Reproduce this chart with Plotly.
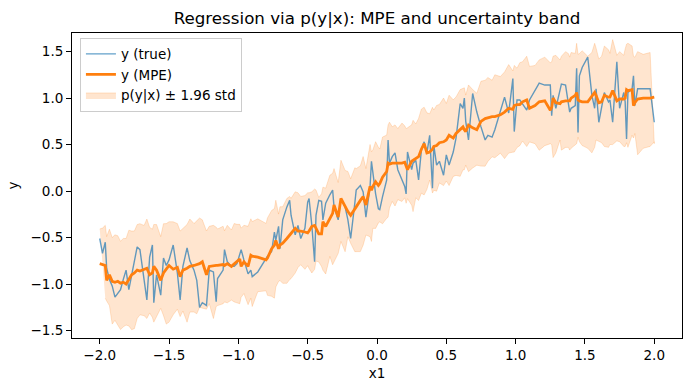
import plotly.graph_objects as go

# ---- data ----
x1 = [
    -2.00, -1.98, -1.96, -1.95, -1.93, -1.91, -1.89, -1.87, -1.85, -1.83,
    -1.81, -1.79, -1.77, -1.75, -1.73, -1.71, -1.68, -1.66, -1.64, -1.62,
    -1.61, -1.59, -1.56, -1.54, -1.52, -1.50, -1.47, -1.44, -1.42, -1.40,
    -1.37, -1.35, -1.32, -1.30, -1.28, -1.26, -1.23, -1.21,
    -1.18, -1.16, -1.15, -1.11, -1.10, -1.08, -1.05, -1.03, -1.01, -0.99,
    -0.98, -0.96, -0.93, -0.91, -0.90, -0.86, -0.80, -0.79, -0.76, -0.74,
    -0.73, -0.71, -0.70, -0.68, -0.65, -0.63, -0.62, -0.59, -0.57, -0.55,
    -0.52, -0.50, -0.49, -0.47, -0.45, -0.44,
    -0.42, -0.40, -0.39, -0.37, -0.34, -0.32, -0.31, -0.28, -0.26, -0.23,
    -0.21, -0.19, -0.16, -0.15, -0.12, -0.10, -0.08, -0.05, -0.04, -0.03,
    -0.01, 0.01, 0.02, 0.04, 0.07, 0.08, 0.09, 0.11, 0.13, 0.15,
    0.18, 0.20, 0.21, 0.22, 0.25, 0.26, 0.28, 0.30, 0.32, 0.34, 0.36,
    0.38, 0.40, 0.41, 0.43, 0.45, 0.48, 0.50, 0.52, 0.55, 0.57,
    0.60, 0.62, 0.63, 0.64, 0.66, 0.69, 0.72, 0.75, 0.78, 0.80,
    0.83, 0.85, 0.89, 0.92, 0.95, 0.98, 0.99, 1.01, 1.03, 1.05,
    1.08, 1.10, 1.14, 1.17,
    1.21, 1.25, 1.26, 1.27, 1.29, 1.32, 1.33, 1.36, 1.38, 1.39,
    1.40, 1.43, 1.44, 1.45, 1.46, 1.48, 1.52, 1.55, 1.57, 1.58,
    1.60, 1.62, 1.64, 1.67, 1.68, 1.70, 1.73, 1.75, 1.78, 1.79,
    1.80, 1.81, 1.84, 1.85, 1.86, 1.88, 1.92, 1.97, 2.00,
]

y_true = [
    -0.51, -0.67, -0.55, -0.83, -0.95, -1.02, -1.14, -1.10, -1.06, -0.95,
    -0.85, -1.06, -0.90, -0.75, -0.60, -0.63, -0.93, -1.17, -0.71, -0.58,
    -1.20, -0.90, -1.12, -0.72, -0.80, -0.74, -0.58, -0.88, -1.17, -0.81,
    -0.61, -0.75, -0.85, -0.96, -1.25, -1.20, -1.23, -0.85,
    -0.87, -1.19, -0.94, -0.85, -0.63, -0.76, -0.81, -0.81, -0.78, -0.69,
    -0.63, -0.74, -0.89, -0.85, -0.92, -0.87, -0.72, -0.70, -0.65, -0.44,
    -0.53, -0.38, -0.62, -0.31, -0.17, -0.10, -0.26, -0.47, -0.37, -0.51,
    -0.40, -0.12, -0.08, -0.37, -0.76, -0.26,
    -0.10, -0.11, -0.31, -0.13, -0.04, 0.01, -0.17, -0.31, -0.08, -0.17,
    -0.31, -0.51, -0.13, 0.01, 0.06, -0.01, -0.28, 0.05, 0.32, 0.19,
    -0.03, -0.19, -0.20, -0.06, 0.12, 0.55, 0.30, 0.37, 0.41, 0.23,
    0.12, 0.05, -0.03, 0.42, 0.23, 0.30, 0.33, 0.12, 0.44, 0.53, 0.41,
    0.60, 0.03, 0.49, 0.28, 0.32, 0.17, 0.39, 0.28, 0.42, 0.57,
    0.94, 0.89, 1.00, 0.75, 0.55, 1.05, 0.85, 0.69, 0.55, 0.60,
    0.58, 0.66, 0.87, 1.01, 0.84, 1.21, 0.64, 0.98, 0.98, 0.94,
    0.87, 0.98, 1.09, 1.16,
    1.14, 1.14, 0.81, 1.03, 0.89, 1.10, 1.15, 1.14, 0.92, 0.85,
    0.89, 0.92, 1.32, 0.63, 1.24, 1.33, 1.44, 1.03, 0.89, 1.10,
    0.74, 0.92, 1.06, 0.96, 0.98, 0.74, 1.39, 0.89, 1.06, 0.96,
    0.56, 1.06, 1.10, 1.24, 0.92, 1.10, 1.10, 1.10, 0.74,
]

y_mpe = [
    -0.78, -0.79, -0.80, -0.96, -0.90, -0.97, -0.98, -0.97, -0.99, -0.98,
    -1.00, -0.95, -0.90, -0.88, -0.85, -0.86, -0.84, -0.83, -0.90, -0.88,
    -0.81, -0.85, -0.96, -0.88, -0.84, -0.80, -0.84, -0.82, -0.92, -0.85,
    -0.83, -0.81, -0.80, -0.79, -0.78, -0.76, -0.90, -0.81,
    -0.80, -0.80, -0.80, -0.79, -0.80, -0.78, -0.81, -0.78, -0.75, -0.73,
    -0.81, -0.76, -0.81, -0.69, -0.70, -0.71, -0.74, -0.72, -0.62, -0.58,
    -0.53, -0.62, -0.58, -0.56, -0.51, -0.47, -0.45, -0.40, -0.43, -0.43,
    -0.44, -0.45, -0.43, -0.38, -0.37, -0.40,
    -0.46, -0.46, -0.33, -0.38, -0.30, -0.24, -0.15, -0.28, -0.08, -0.17,
    -0.22, -0.26, -0.20, -0.17, -0.10, -0.06, -0.15, 0.05, 0.01, 0.05,
    0.10, 0.06, 0.08, 0.15, 0.21, 0.30, 0.29, 0.30, 0.30, 0.30,
    0.30, 0.31, 0.26, 0.23, 0.32, 0.33, 0.35, 0.37, 0.45, 0.51, 0.41,
    0.42, 0.45, 0.48, 0.49, 0.52, 0.53, 0.55, 0.60, 0.57, 0.62,
    0.66, 0.69, 0.66, 0.64, 0.71, 0.68, 0.66, 0.75, 0.78, 0.79,
    0.80, 0.80, 0.82, 0.85, 0.89, 0.88, 0.92, 0.93, 0.93, 0.96,
    0.98, 0.89, 0.92, 0.96,
    0.97, 0.87, 0.90, 1.00, 0.95, 0.94, 0.96, 0.97, 0.97, 0.97,
    1.00, 1.03, 1.06, 0.98, 0.97, 0.96, 0.96, 1.02, 1.06, 1.03,
    0.95, 0.96, 1.03, 1.01, 1.01, 1.08, 0.97, 0.99, 0.99, 1.00,
    1.09, 1.08, 1.09, 0.92, 0.95, 0.99, 1.00, 1.00, 1.01,
]

y_std = [
    0.19, 0.20, 0.22, 0.24, 0.25, 0.24, 0.26, 0.25, 0.23, 0.24,
    0.25, 0.27, 0.24, 0.23, 0.25, 0.26, 0.24, 0.27, 0.26, 0.24,
    0.23, 0.25, 0.24, 0.27, 0.25, 0.24, 0.26, 0.24, 0.25, 0.23,
    0.24, 0.26, 0.23, 0.24, 0.25, 0.23, 0.24, 0.22,
    0.22, 0.21, 0.20, 0.21, 0.19, 0.21, 0.20, 0.22, 0.20, 0.19,
    0.21, 0.20, 0.22, 0.20, 0.19, 0.21, 0.20, 0.22, 0.21, 0.20,
    0.22, 0.19, 0.21, 0.20, 0.22, 0.21, 0.19, 0.20, 0.21, 0.19,
    0.20, 0.22, 0.21, 0.19, 0.20, 0.21,
    0.20, 0.22, 0.19, 0.21, 0.24, 0.22, 0.20, 0.19, 0.21, 0.20,
    0.22, 0.20, 0.23, 0.21, 0.19, 0.22, 0.20, 0.23, 0.21, 0.20,
    0.22, 0.21, 0.19, 0.22, 0.20, 0.21, 0.23, 0.20, 0.21, 0.19,
    0.22, 0.20, 0.21, 0.23, 0.20, 0.22, 0.19, 0.21, 0.22, 0.20,
    0.22, 0.21, 0.23, 0.20, 0.22, 0.21, 0.24, 0.20, 0.22, 0.21,
    0.20, 0.22, 0.21, 0.23, 0.20, 0.22, 0.21, 0.20, 0.22, 0.21,
    0.22, 0.20, 0.23, 0.21, 0.22, 0.24, 0.21, 0.22, 0.20, 0.23,
    0.22, 0.24, 0.23, 0.22,
    0.23, 0.24, 0.26, 0.25, 0.23, 0.26, 0.24, 0.25, 0.27, 0.26,
    0.24, 0.25, 0.23, 0.27, 0.25, 0.26, 0.28, 0.25, 0.24, 0.27,
    0.26, 0.24, 0.25, 0.27, 0.26, 0.24, 0.28, 0.25, 0.26, 0.24,
    0.27, 0.25, 0.26, 0.24, 0.27, 0.25, 0.26, 0.24, 0.25,
]

x_ticks = [-2.0, -1.5, -1.0, -0.5, 0.0, 0.5, 1.0, 1.5, 2.0]
y_ticks = [-1.5, -1.0, -0.5, 0.0, 0.5, 1.0, 1.5]

# ---- figure ----
upper = [m + 1.96 * s for m, s in zip(y_mpe, y_std)]
lower = [m - 1.96 * s for m, s in zip(y_mpe, y_std)]

fig = go.Figure()
fig.add_trace(go.Scatter(
    x=x1 + x1[::-1], y=upper + lower[::-1], mode="lines",
    fill="toself", fillcolor="rgba(255,127,14,0.2)",
    line=dict(color="rgba(255,127,14,0.2)", width=1),
    name="p(y|x) ± 1.96 std", legendrank=3,
))
fig.add_trace(go.Scatter(
    x=x1, y=y_true, mode="lines", name="y (true)",
    line=dict(color="rgba(31,119,180,0.7)", width=1.4),
    legendrank=1,
))
fig.add_trace(go.Scatter(
    x=x1, y=y_mpe, mode="lines", name="y (MPE)",
    line=dict(color="#ff7f0e", width=2.8),
    legendrank=2,
))

font = "DejaVu Sans, Arial, sans-serif"
axis_common = dict(
    showline=True, linecolor="black", linewidth=1, mirror=True,
    ticks="outside", ticklen=5, tickwidth=1, tickcolor="black",
    showgrid=False, zeroline=False,
    tickfont=dict(family=font, size=13.5, color="black"),
    tickformat=".1f",
)

fig.update_layout(
    width=690, height=390,
    margin=dict(l=72, r=8, t=33, b=52),
    paper_bgcolor="white", plot_bgcolor="white",
    font=dict(family=font, color="black"),
    title=dict(
        text="Regression via p(y|x): MPE and uncertainty band",
        x=0.5, xref="paper", xanchor="center",
        y=1 - 18 / 390, yref="container", yanchor="middle",
        font=dict(family=font, size=16.7, color="black"),
    ),
    xaxis=dict(
        range=[-2.2, 2.2], tickvals=x_ticks,
        title=dict(text="x1", font=dict(family=font, size=13.5), standoff=6),
        **axis_common,
    ),
    yaxis=dict(
        range=[-1.58, 1.70], tickvals=y_ticks,
        title=dict(text="y", font=dict(family=font, size=13.5), standoff=8),
        **axis_common,
    ),
    legend=dict(
        x=0.013, y=0.985, xanchor="left", yanchor="top",
        bgcolor="rgba(255,255,255,0.8)", bordercolor="#cccccc", borderwidth=1,
        font=dict(family=font, size=13.5, color="black"),
        tracegroupgap=0, itemwidth=30,
    ),
    showlegend=True,
)

fig.write_html(
    "out.html",
    config={"displayModeBar": False},
    post_script="document.body.style.margin='0';document.body.style.padding='0';",
)
